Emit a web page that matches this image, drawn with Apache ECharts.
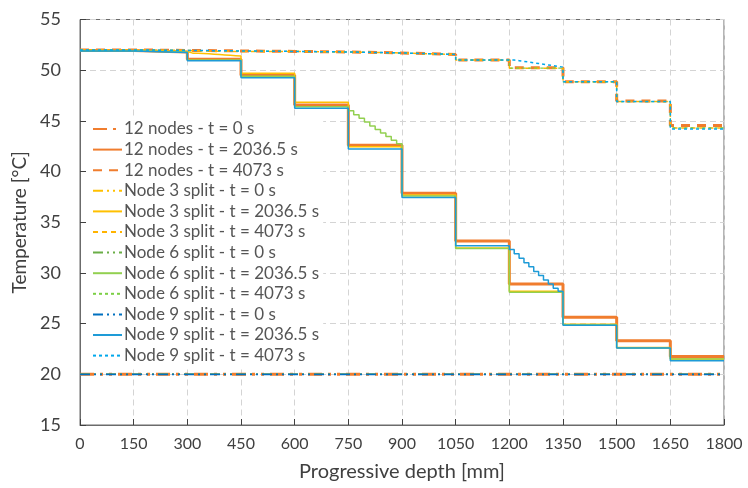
<!DOCTYPE html>
<html>
<head>
<meta charset="utf-8">
<script src="https://cdn.jsdelivr.net/npm/echarts@6/dist/echarts.min.js"></script>
<style>html,body{margin:0;padding:0;background:#fff}#chart{width:748px;height:488px}</style>
</head>
<body>
<div id="chart"></div>
<script>
// Node boundaries along the depth [mm]
const nodeEdges = [0, 150, 300, 450, 600, 750, 900, 1050, 1200, 1350, 1500, 1650, 1800];
const xTicks = [0, 150, 300, 450, 600, 750, 900, 1050, 1200, 1350, 1500, 1650, 1800];
const yTicks = [15, 20, 25, 30, 35, 40, 45, 50, 55];

// Temperature per node [°C]; an inner array holds the sub-node values of a split node
const initialTemp = 20;

const nodes12_t2036 = [51.95, 51.8, 51.07, 49.5, 46.57, 42.6, 37.86, 33.16, 28.9, 25.63, 23.3, 21.75];
const nodes12_t4073 = [52.0, 51.95, 51.9, 51.85, 51.8, 51.7, 51.55, 51.0, 50.25, 48.87, 46.96, 44.55];

const node3_t2036 = [51.95, 51.85,
  [51.68, 51.66, 51.64, 51.61, 51.58, 51.55, 51.51, 51.47, 51.43, 51.39],
  49.7, 46.83, 42.45, 37.7, 32.45, 28.2, 24.95, 22.65, 21.5];
const node3_t4073 = [52.0, 51.95,
  [51.92, 51.91, 51.9, 51.89, 51.88, 51.87, 51.86, 51.86, 51.85, 51.85],
  51.85, 51.8, 51.7, 51.55, 51.0, 50.2, 48.85, 46.9, 44.3];

const node6_t2036 = [51.9, 51.8, 51.0, 49.4, 46.4,
  [46.0, 45.6, 45.25, 44.9, 44.5, 44.15, 43.8, 43.45, 43.1, 42.75],
  37.6, 32.4, 28.1, 24.9, 22.6, 21.5];
const node6_t4073 = [52.0, 51.95, 51.9, 51.85, 51.8,
  [51.78, 51.77, 51.76, 51.75, 51.74, 51.73, 51.72, 51.71, 51.7, 51.69],
  51.55, 51.0, 50.2, 48.85, 46.9, 44.3];

const node9_t2036 = [51.9, 51.75, 50.94, 49.26, 46.24, 42.23, 37.43, 32.67,
  [32.3, 31.9, 31.45, 31.0, 30.6, 30.15, 29.75, 29.3, 28.9, 28.5, 28.2],
  24.84, 22.6, 21.35];
const node9_t4073 = [52.0, 51.95, 51.9, 51.85, 51.8, 51.7, 51.55, 51.0,
  [51.0, 50.94, 50.87, 50.8, 50.73, 50.66, 50.59, 50.52, 50.45, 50.38, 50.3],
  48.85, 46.9, 44.2];

const seriesNames = [
  '12 nodes - t = 0 s', '12 nodes - t = 2036.5 s', '12 nodes - t = 4073 s',
  'Node 3 split - t = 0 s', 'Node 3 split - t = 2036.5 s', 'Node 3 split - t = 4073 s',
  'Node 6 split - t = 0 s', 'Node 6 split - t = 2036.5 s', 'Node 6 split - t = 4073 s',
  'Node 9 split - t = 0 s', 'Node 9 split - t = 2036.5 s', 'Node 9 split - t = 4073 s'
];

// Turn per-node values into a stepped profile of [depth, temperature] points
function stepProfile(values) {
  const pts = [];
  values.forEach(function (v, i) {
    const x0 = nodeEdges[i], x1 = nodeEdges[i + 1];
    const subs = Array.isArray(v) ? v : [v];
    const w = (x1 - x0) / subs.length;
    subs.forEach(function (s, k) {
      pts.push([x0 + k * w, s], [x0 + (k + 1) * w, s]);
    });
  });
  return pts;
}
function flatProfile(v) {
  return [[nodeEdges[0], v], [nodeEdges[nodeEdges.length - 1], v]];
}

const ORANGE = '#F07D2E', YELLOW = '#FFC000', YELLOW_D = '#FFB300';
const GREEN_D = '#6AAE47', GREEN = '#92D050', GREEN_L = '#7CCF45';
const BLUE_D = '#0070C0', BLUE = '#1E9BD7', BLUE_L = '#00A8EC';
const DASHDOTDOT = [10, 4, 2, 4, 2, 4];

function line(name, data, color, width, type) {
  return {
    name: name, type: 'line', data: data, showSymbol: false, symbol: 'none',
    animation: false, silent: true,
    lineStyle: { color: color, width: width, type: type },
    itemStyle: { color: color }
  };
}

const series = [
  line(seriesNames[0], flatProfile(initialTemp), ORANGE, 3, [14, 6, 3, 6, 3, 6]),
  line(seriesNames[1], stepProfile(nodes12_t2036), ORANGE, 3, 'solid'),
  line(seriesNames[2], stepProfile(nodes12_t4073), ORANGE, 3, [9, 7]),
  line(seriesNames[3], flatProfile(initialTemp), YELLOW, 1.5, DASHDOTDOT),
  line(seriesNames[4], stepProfile(node3_t2036), YELLOW, 1.5, 'solid'),
  line(seriesNames[5], stepProfile(node3_t4073), YELLOW_D, 1.5, [5, 4]),
  line(seriesNames[6], flatProfile(initialTemp), GREEN_D, 1.5, DASHDOTDOT),
  line(seriesNames[7], stepProfile(node6_t2036), GREEN, 1.5, 'solid'),
  line(seriesNames[8], stepProfile(node6_t4073), GREEN_L, 1.2, [3, 3]),
  line(seriesNames[9], flatProfile(initialTemp), BLUE_D, 1.8, DASHDOTDOT),
  line(seriesNames[10], stepProfile(node9_t2036), BLUE, 1.5, 'solid'),
  line(seriesNames[11], stepProfile(node9_t4073), BLUE_L, 1.5, [3, 3])
];

const FONT = 'Lato';
const TXT = '#404040';

const chart = echarts.init(document.getElementById('chart'), null, { renderer: 'canvas' });
chart.setOption({
  backgroundColor: '#fff',
  animation: false,
  grid: { left: 80, right: 24, top: 19.5, bottom: 63, show: true, borderColor: '#6b6b6b', borderWidth: 1, backgroundColor: 'transparent' },
  legend: {
    orient: 'vertical', left: 88, top: 118,
    data: seriesNames,
    itemWidth: 29, itemHeight: 14, itemGap: 2.6,
    padding: [2, 4, 2, 4],
    backgroundColor: '#fff',
    selectedMode: false,
    itemStyle: { opacity: 0 },
    textStyle: { fontFamily: FONT, fontSize: 17, lineHeight: 18, color: '#555', padding: [0, 0, 0, -3] }
  },
  xAxis: {
    type: 'value', min: xTicks[0], max: xTicks[xTicks.length - 1], interval: 150,
    name: 'Progressive depth [mm]', nameLocation: 'middle', nameGap: 37,
    nameTextStyle: { fontFamily: FONT, fontSize: 20, color: TXT },
    axisLine: { show: true, lineStyle: { color: '#6b6b6b', width: 1 } },
    axisTick: { show: true, inside: true, length: 6, lineStyle: { color: '#404040' } },
    axisLabel: { fontFamily: FONT, fontSize: 16, color: TXT, margin: 11, formatter: function (v) { return String(v); } },
    splitLine: { show: true, lineStyle: { color: '#d4d4d4', type: [6, 4], width: 1 } }
  },
  yAxis: {
    type: 'value', min: yTicks[0], max: yTicks[yTicks.length - 1], interval: 5,
    name: 'Temperature [°C]', nameLocation: 'middle', nameGap: 50,
    nameTextStyle: { fontFamily: FONT, fontSize: 19, color: TXT },
    axisLine: { show: true, lineStyle: { color: '#6b6b6b', width: 1 } },
    axisTick: { show: true, inside: true, length: 6, lineStyle: { color: '#404040' } },
    axisLabel: { fontFamily: FONT, fontSize: 18, color: TXT, margin: 19 },
    splitLine: { show: true, lineStyle: { color: '#d4d4d4', type: [6, 4], width: 1 } }
  },
  series: series
});
</script>
</body>
</html>
